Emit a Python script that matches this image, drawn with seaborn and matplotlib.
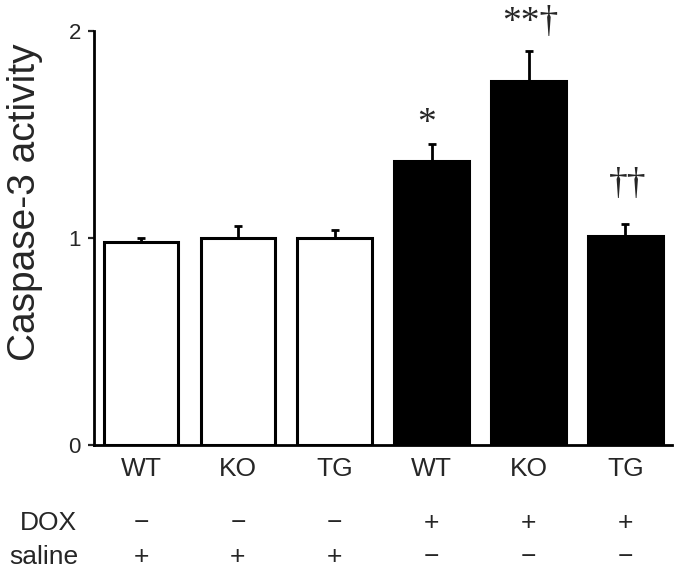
import matplotlib
matplotlib.use("Agg")
import matplotlib.pyplot as plt
import matplotlib.transforms as mtransforms
import seaborn as sns
import pandas as pd
import numpy as np

# ---- data ----
groups = ["WT", "KO", "TG", "WT", "KO", "TG"]
group_ids = ["WT_s", "KO_s", "TG_s", "WT_d", "KO_d", "TG_d"]
values = [0.98, 1.00, 1.00, 1.37, 1.76, 1.01]
errors = [0.02, 0.06, 0.04, 0.085, 0.145, 0.06]
treatment = ["saline", "saline", "saline", "DOX", "DOX", "DOX"]
dox_row = ["−", "−", "−", "+", "+", "+"]
saline_row = ["+", "+", "+", "−", "−", "−"]
marks = ["", "", "", "*", "**†", "††"]
mark_y = [0, 0, 0, 1.55, 2.04, 1.255]

sns.set_style("white")
plt.rcParams["font.family"] = ["Liberation Sans", "DejaVu Sans"]

df = pd.DataFrame({"id": group_ids, "value": values, "treatment": treatment})

fig = plt.figure(figsize=(6.79, 5.76), dpi=100)
ax = fig.add_axes([94 / 679, 1 - 445 / 576, (672 - 94) / 679, (445 - 31) / 576])

sns.barplot(data=df, x="id", y="value", hue="treatment",
            palette={"saline": "white", "DOX": "black"},
            order=group_ids, width=0.77, dodge=False, legend=False,
            edgecolor="black", linewidth=2.2, errorbar=None, ax=ax)

ax.errorbar(np.arange(len(values)), values,
            yerr=[np.zeros(len(errors)), errors],
            fmt="none", ecolor="black", elinewidth=2.0, capsize=3, capthick=2.0,
            zorder=1)

ax.set_xlim(-0.485, 5.48)
ax.set_ylim(0, 2)
ax.set_yticks([0, 1, 2])
ax.set_yticklabels(["0", "1", "2"], fontsize=16)
ax.set_xticks(range(len(groups)))
ax.set_xticklabels(groups, fontsize=19)
ax.tick_params(axis="x", length=0, pad=9)
ax.tick_params(axis="y", direction="out", length=4.5, width=1.6, left=True, pad=5)
ax.set_xlabel("")
ax.set_ylabel("Caspase-3 activity", fontsize=28, va="center")
ax.yaxis.set_label_coords((25 - 94) / 578, (445 - 202) / 414)
for s in ["top", "right"]:
    ax.spines[s].set_visible(False)
for s in ["left", "bottom"]:
    ax.spines[s].set_linewidth(2)
    ax.spines[s].set_color("black")

# significance marks
for i, (m, y) in enumerate(zip(marks, mark_y)):
    if m:
        ax.text(i - 0.05 if m == "*" else i + 0.02, y, m, ha="center", va="center",
                fontsize=27, family=["Liberation Serif", "DejaVu Serif"],
                clip_on=False)

# treatment table
trans = mtransforms.blended_transform_factory(ax.transData, fig.transFigure)
for i in range(len(groups)):
    ax.text(i, 1 - 523 / 576, dox_row[i], ha="center", va="center",
            fontsize=19, transform=trans)
    ax.text(i, 1 - 557 / 576, saline_row[i], ha="center", va="center",
            fontsize=19, transform=trans)
fig.text(77 / 679, 1 - 523 / 576, "DOX", ha="right", va="center", fontsize=19)
fig.text(78 / 679, 1 - 557 / 576, "saline", ha="right", va="center", fontsize=19)

fig.savefig("out.png", dpi=100)
